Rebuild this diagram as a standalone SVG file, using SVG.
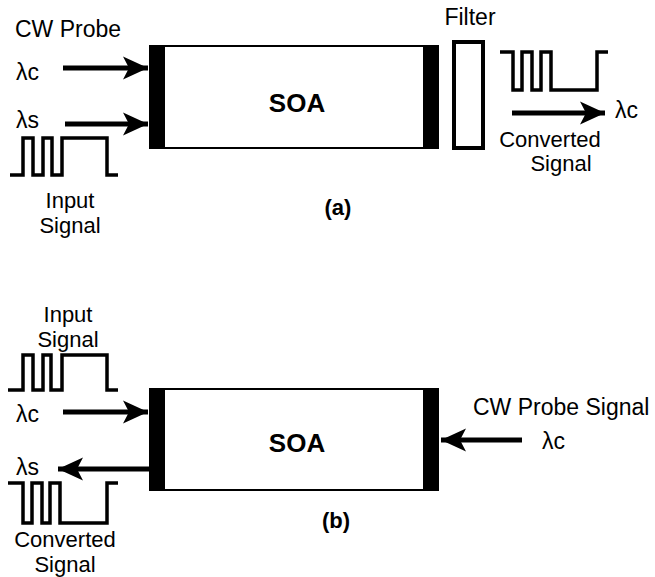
<svg xmlns="http://www.w3.org/2000/svg" width="655" height="577" viewBox="0 0 655 577">
<style>
text{font-family:"Liberation Sans",Arial,Helvetica,sans-serif;font-size:23px;fill:#000}
.t2{font-size:22px}
.b{font-weight:bold;font-size:22px}
.soa{font-weight:bold;font-size:26px}
.mid{text-anchor:middle}
.box{fill:#fff;stroke:#000;stroke-width:2}
.bar{fill:#000}
.wave{fill:none;stroke:#000;stroke-width:3.5;stroke-linejoin:miter;stroke-miterlimit:10}
.arr{stroke:#000;stroke-width:5;fill:none}
.filt{fill:#fff;stroke:#000;stroke-width:4}
</style>
<defs>
<marker id="ah" markerUnits="userSpaceOnUse" markerWidth="28" markerHeight="26" viewBox="-26 -13 28 26" refX="0" refY="0" orient="auto">
<path d="M0,0 L-25,-11.5 L-19,0 L-25,11.5 Z" fill="#000"/>
</marker>
</defs>
<g id="soa-a">
<rect class="box" x="150" y="46" width="288" height="102"/>
<rect class="bar" x="150" y="45" width="15" height="104"/>
<rect class="bar" x="423" y="45" width="15" height="104"/>
<text class="soa mid" x="297" y="112">SOA</text>
</g>
<g id="filter-a">
<rect class="filt" x="454" y="42" width="29" height="106"/>
<text class="mid" x="470" y="25">Filter</text>
</g>
<g id="input-a">
<path class="wave" d="M10,175 H23 V138 H33 V175 H43 V138 H52 V175 H62 V138 H107 V175 H118"/>
<text x="15" y="37">CW Probe</text>
<text x="16" y="80">λc</text>
<text x="16" y="128">λs</text>
<text class="t2 mid" x="70" y="208">Input</text>
<text class="t2 mid" x="70" y="233">Signal</text>
</g>
<g id="output-a">
<path class="wave" d="M500,52 H513 V90 H522 V52 H532 V90 H541 V52 H551 V90 H597 V52 H608"/>
<text x="615" y="118">λc</text>
<text class="t2 mid" x="550" y="147">Converted</text>
<text class="t2 mid" x="561" y="171">Signal</text>
</g>
<text class="b mid" x="338" y="215">(a)</text>
<g id="soa-b">
<rect class="box" x="150" y="389" width="288" height="101"/>
<rect class="bar" x="150" y="388" width="15" height="103"/>
<rect class="bar" x="423" y="388" width="15" height="103"/>
<text class="soa mid" x="297" y="452">SOA</text>
</g>
<g id="input-b">
<text class="t2 mid" x="68" y="322">Input</text>
<text class="t2 mid" x="68" y="347">Signal</text>
<path class="wave" d="M8,390 H23 V355 H33 V390 H43 V355 H51 V390 H62 V355 H107 V390 H118"/>
<text x="16" y="422">λc</text>
</g>
<g id="output-b">
<text x="16" y="475">λs</text>
<path class="wave" d="M8,483 H23 V523 H32 V483 H42 V523 H50 V483 H60 V523 H107 V483 H118"/>
<text class="t2 mid" x="65" y="547">Converted</text>
<text class="t2 mid" x="65" y="572">Signal</text>
</g>
<g id="probe-b">
<text x="473" y="415">CW Probe Signal</text>
<text x="542" y="449">λc</text>
</g>
<text class="b mid" x="336" y="528">(b)</text>
<g id="connectors">
<line class="arr" x1="63" y1="68" x2="148" y2="68" marker-end="url(#ah)"/>
<line class="arr" x1="65" y1="124" x2="148" y2="124" marker-end="url(#ah)"/>
<line class="arr" x1="512" y1="113" x2="605" y2="113" marker-end="url(#ah)"/>
<line class="arr" x1="63" y1="412" x2="148" y2="412" marker-end="url(#ah)"/>
<line class="arr" x1="150" y1="469" x2="58" y2="469" marker-end="url(#ah)"/>
<line class="arr" x1="522" y1="440" x2="441" y2="440" marker-end="url(#ah)"/>
</g>
</svg>
